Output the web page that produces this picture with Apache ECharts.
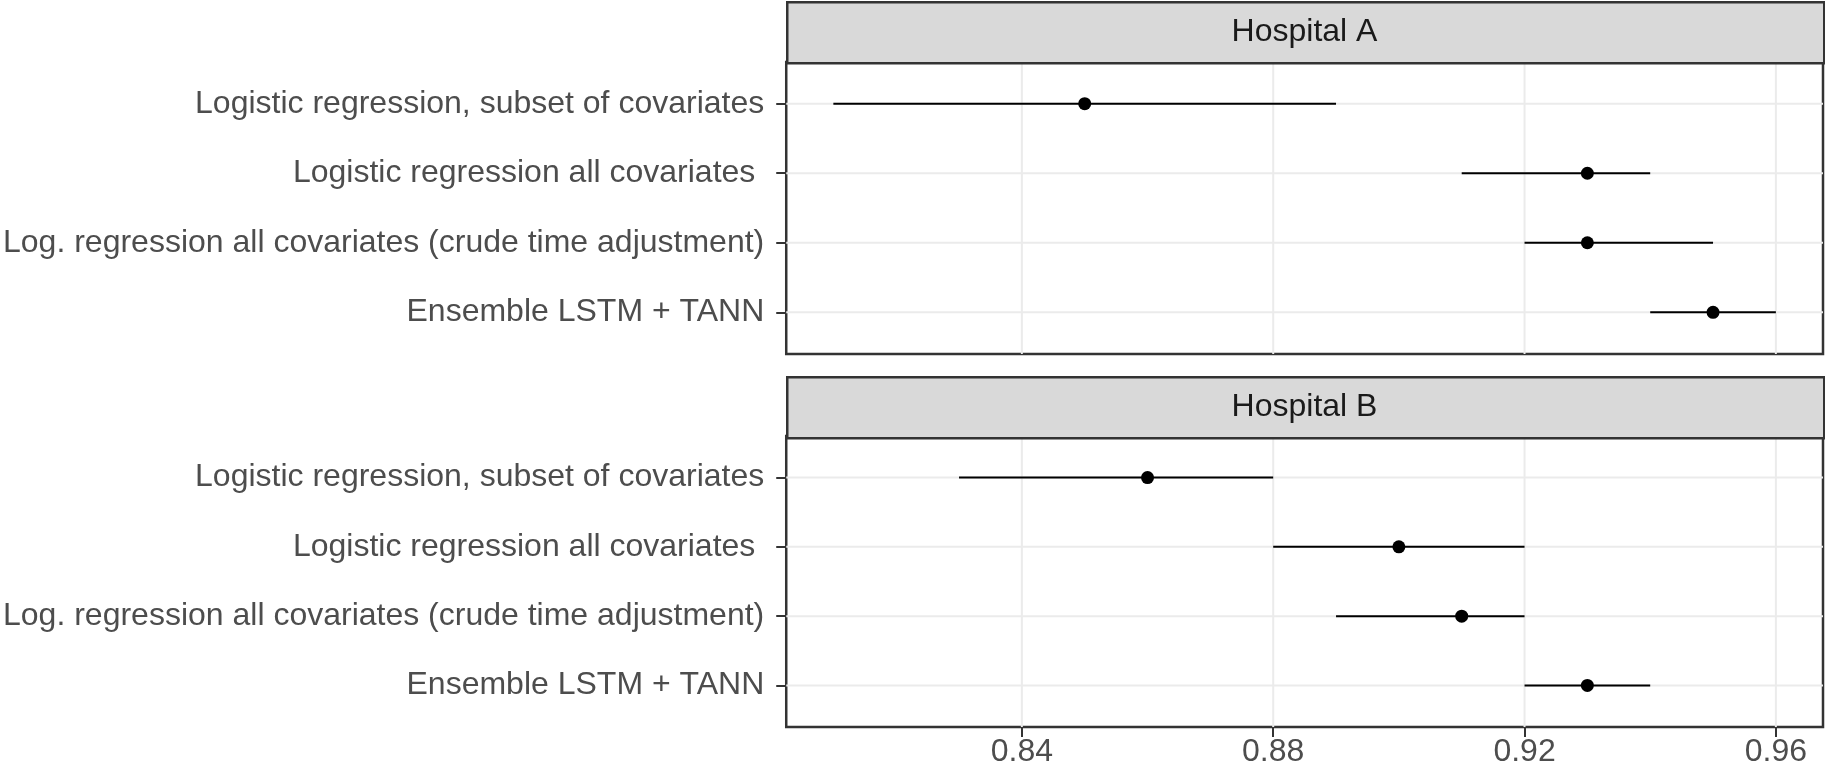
<!DOCTYPE html>
<html>
<head>
<meta charset="utf-8">
<script src="https://cdn.jsdelivr.net/npm/echarts@6/dist/echarts.min.js"></script>
<style>
  html, body { margin: 0; padding: 0; background: #ffffff; }
  #chart { width: 1825px; height: 778px; }
</style>
</head>
<body>
<div id="chart"></div>
<script>
// Model names, listed top to bottom
const models = [
  'Logistic regression, subset of covariates',
  'Logistic regression all covariates ',
  'Log. regression all covariates (crude time adjustment)',
  'Ensemble LSTM + TANN'
];
const panels = ['Hospital A', 'Hospital B'];

// AUC estimates with lower / upper interval bounds
const hospitalA_auc   = [0.85, 0.93, 0.93, 0.95];
const hospitalA_lower = [0.81, 0.91, 0.92, 0.94];
const hospitalA_upper = [0.89, 0.94, 0.95, 0.96];

const hospitalB_auc   = [0.86, 0.90, 0.91, 0.93];
const hospitalB_lower = [0.83, 0.88, 0.89, 0.92];
const hospitalB_upper = [0.88, 0.92, 0.92, 0.94];

const xTicks = [0.84, 0.88, 0.92, 0.96];

// Layout (pixels)
const FONT = "'Liberation Sans', Arial, sans-serif";
const FONT_SIZE = 32;
const panelLeft = 786, panelRight = 2, panelWidth = 1825 - 786 - 2;
const stripH = 61;
const panelBoxes = [
  { stripTop: 1, top: 62, height: 292 },
  { stripTop: 376, top: 436, height: 291 }
];

const xMin = 0.8025, xMax = 0.9675;
const yPositions = models.map((_, i) => i);

function yAxisFor(gi) {
  return {
    type: 'value', gridIndex: gi, min: -0.6, max: 3.6, inverse: true,
    axisLine: { show: false, onZero: false },
    axisTick: { show: true, customValues: yPositions, length: 10, lineStyle: { color: '#333333', width: 2 } },
    axisLabel: {
      customValues: yPositions, margin: 22,
      formatter: v => models[Math.round(v)],
      color: '#4D4D4D', fontSize: FONT_SIZE, fontFamily: FONT
    },
    splitLine: { show: false }
  };
}

function xAxisFor(gi, showLabels) {
  return {
    type: 'value', gridIndex: gi, position: 'bottom', min: xMin, max: xMax,
    axisLine: { show: false, onZero: false },
    axisTick: { show: showLabels, customValues: xTicks, length: 10, lineStyle: { color: '#333333', width: 2 } },
    axisLabel: {
      show: showLabels, customValues: xTicks, margin: 9,
      formatter: v => v.toFixed(2),
      color: '#4D4D4D', fontSize: FONT_SIZE, fontFamily: FONT
    },
    splitLine: { show: false }
  };
}

// Panel gridlines drawn on the panel's own scales
function gridSeries(gi) {
  return {
    type: 'custom', xAxisIndex: gi, yAxisIndex: gi, silent: true, z: 1,
    data: [[xMin, 0]],
    renderItem: function (params, api) {
      const children = [];
      xTicks.forEach(t => {
        const a = api.coord([t, -0.6]), b = api.coord([t, 3.6]);
        children.push({ type: 'line', shape: { x1: a[0], y1: a[1], x2: b[0], y2: b[1] },
          style: { stroke: '#EBEBEB', lineWidth: 2 } });
      });
      yPositions.forEach(p => {
        const a = api.coord([xMin, p]), b = api.coord([xMax, p]);
        children.push({ type: 'line', shape: { x1: a[0], y1: a[1], x2: b[0], y2: b[1] },
          style: { stroke: '#EBEBEB', lineWidth: 2 } });
      });
      return { type: 'group', children: children };
    }
  };
}

// Horizontal interval lines: [row, lower, upper]
function intervalSeries(gi, lower, upper) {
  return {
    type: 'custom', xAxisIndex: gi, yAxisIndex: gi, silent: true, z: 3,
    dimensions: ['row', 'lo', 'hi'],
    encode: { x: ['lo', 'hi'], y: 'row' },
    data: lower.map((lo, i) => [i, lo, upper[i]]),
    renderItem: function (params, api) {
      const a = api.coord([api.value(1), api.value(0)]);
      const b = api.coord([api.value(2), api.value(0)]);
      return { type: 'line', shape: { x1: a[0], y1: a[1], x2: b[0], y2: b[1] },
        style: { stroke: '#000000', lineWidth: 2 } };
    }
  };
}

function pointSeries(gi, est) {
  return {
    type: 'scatter', xAxisIndex: gi, yAxisIndex: gi, silent: true, z: 4,
    symbol: 'circle', symbolSize: 13,
    itemStyle: { color: '#000000', opacity: 1 },
    data: est.map((v, i) => [v, i])
  };
}

// Facet strips
const graphics = [];
panelBoxes.forEach((p, i) => {
  graphics.push({
    type: 'rect', left: panelLeft, top: p.stripTop, z: 10,
    shape: { width: panelWidth, height: stripH },
    style: { fill: '#D9D9D9', stroke: '#333333', lineWidth: 2.5 }
  });
  graphics.push({
    type: 'text', z: 11,
    x: panelLeft + panelWidth / 2, y: p.stripTop + stripH / 2 + 1,
    style: { text: panels[i], fill: '#1A1A1A', font: FONT_SIZE + 'px ' + FONT, align: 'center', verticalAlign: 'middle' }
  });
});

const chart = echarts.init(document.getElementById('chart'), null, { renderer: 'canvas' });
chart.setOption({
  backgroundColor: '#ffffff',
  animation: false,
  grid: panelBoxes.map(p => ({
    left: panelLeft, right: panelRight, top: p.top, height: p.height,
    show: true, borderColor: '#333333', borderWidth: 2.5, backgroundColor: 'transparent'
  })),
  xAxis: [xAxisFor(0, false), xAxisFor(1, true)],
  yAxis: [yAxisFor(0), yAxisFor(1)],
  graphic: graphics,
  series: [
    gridSeries(0), gridSeries(1),
    intervalSeries(0, hospitalA_lower, hospitalA_upper),
    intervalSeries(1, hospitalB_lower, hospitalB_upper),
    pointSeries(0, hospitalA_auc),
    pointSeries(1, hospitalB_auc)
  ]
});
</script>
</body>
</html>
